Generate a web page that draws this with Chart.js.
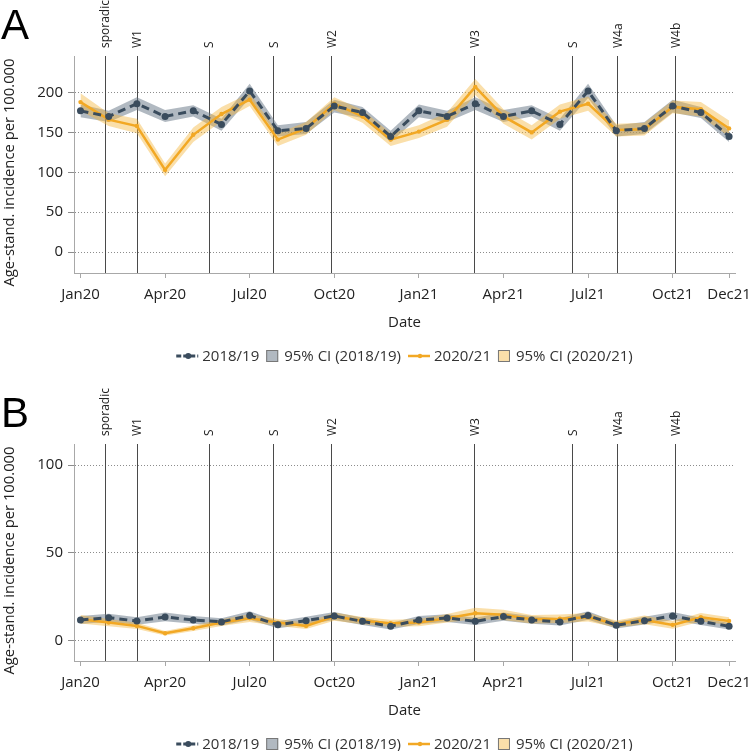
<!DOCTYPE html>
<html>
<head>
<meta charset="utf-8">
<script src="https://cdn.jsdelivr.net/npm/chart.js@4.4.1/dist/chart.umd.min.js"></script>
<style>
  html, body { margin: 0; padding: 0; background: #fff; overflow: hidden; }
  .panel { position: absolute; left: 0; width: 749px; height: 388px; }
  #panelA { top: 0; }
  #panelB { top: 388px; }
</style>
</head>
<body>
<canvas id="panelA" class="panel" width="749" height="388"></canvas>
<canvas id="panelB" class="panel" width="749" height="388"></canvas>
<script>
// =========================
// DATA
// =========================
const months = ["Jan20","Feb20","Mar20","Apr20","May20","Jun20","Jul20","Aug20","Sep20","Oct20","Nov20","Dec20",
                "Jan21","Feb21","Mar21","Apr21","May21","Jun21","Jul21","Aug21","Sep21","Oct21","Nov21","Dec21"];
const xTickMonths = ["Jan20","Apr20","Jul20","Oct20","Jan21","Apr21","Jul21","Oct21","Dec21"];

const waveDates = ["2020-01-28","2020-03-01","2020-05-18","2020-07-27","2020-09-28","2021-02-28","2021-06-14","2021-08-02","2021-10-04"];
const waveLabels = ["sporadic","W1","S","S","W2","W3","S","W4a","W4b"];

// panel A
const ref18A = [177, 170, 186, 170, 177, 160, 202, 152, 155, 183, 175, 145, 177, 170, 186, 170, 177, 160, 202, 152, 155, 183, 175, 145];
const lo18A  = [169, 163, 178, 163, 170, 152, 193, 145, 148, 175, 168, 138, 169, 163, 178, 163, 170, 152, 193, 145, 148, 175, 168, 138];
const hi18A  = [185, 177, 194, 178, 184, 167, 211, 159, 163, 191, 182, 152, 185, 177, 194, 178, 184, 167, 211, 159, 163, 191, 182, 152];
const obs20A = [188, 166, 158, 103, 147, 173, 191, 141, 155, 186, 170, 141, 151, 166, 207, 170, 150, 176, 186, 153, 154, 182, 179, 155];
const lo20A  = [177, 158, 149,  95, 138, 164, 183, 133, 147, 178, 162, 133, 143, 157, 197, 161, 141, 167, 177, 145, 146, 174, 170, 145];
const hi20A  = [199, 174, 167, 111, 156, 182, 199, 149, 163, 194, 178, 149, 159, 175, 217, 179, 159, 185, 195, 161, 162, 190, 188, 165];
const yTicksA = [0, 50, 100, 150, 200];

// panel B
const ref18B = [11.8, 13.1, 11.2, 13.5, 11.8, 10.7, 14.3, 9.0, 11.4, 14.1, 11.0, 8.2, 11.8, 12.9, 11.0, 13.7, 11.8, 10.7, 14.3, 8.8, 11.4, 14.1, 11.0, 8.2];
const lo18B  = [9.5, 10.8, 9.0, 11.0, 9.6, 8.6, 11.9, 7.0, 9.2, 11.8, 8.9, 6.3, 9.5, 10.7, 8.9, 11.3, 9.6, 8.6, 11.9, 6.9, 9.2, 11.8, 8.9, 6.3];
const hi18B  = [14.1, 15.4, 13.4, 16.0, 14.0, 12.8, 16.7, 11.0, 13.6, 16.4, 13.1, 10.1, 14.1, 15.1, 13.1, 16.1, 14.0, 12.8, 16.7, 10.7, 13.6, 16.4, 13.1, 10.1];
const obs20B = [12.2, 10.3, 8.4, 4.2, 7.1, 10.3, 12.8, 10.3, 8.4, 13.7, 11.4, 9.9, 10.3, 12.8, 15.6, 14.7, 12.2, 12.5, 13.3, 9.5, 11.8, 9.0, 13.3, 11.2];
const lo20B  = [9.8, 8.2, 6.6, 2.9, 5.5, 8.4, 10.6, 8.3, 6.6, 11.4, 9.3, 7.9, 8.2, 10.4, 12.4, 11.8, 9.8, 10.1, 10.9, 7.5, 9.3, 6.8, 10.9, 9.0];
const hi20B  = [14.6, 12.4, 10.2, 5.5, 8.7, 12.2, 15.0, 12.3, 10.2, 16.0, 13.5, 11.9, 12.4, 15.2, 18.8, 17.6, 14.6, 14.9, 15.7, 11.5, 14.3, 11.2, 15.7, 13.4];
const yTicksB = [0, 50, 100];

const yTitle = "Age-stand. incidence per 100.000";

// =========================
// HELPERS
// =========================
const $ = (id) => document.getElementById(id);
const FONT = "'Open Sans', sans-serif";
const TXT = "#222";
const COL = {
  ref: "#3a4c5d",
  obs: "#f2a824",
  refBand: "rgba(100,116,132,0.5)",
  obsBand: "rgba(244,178,52,0.42)",
  axis: "#a8a8a8",
  grid: "#8c8c8c",
  wave: "#4a4a4a"
};

const pts = (arr) => arr.map((v, i) => ({ x: i, y: v }));

// date -> fractional month index, Jan20 = 0
const monthPos = (s) => {
  const [y, m, d] = s.split("-").map(Number);
  const days = new Date(y, m, 0).getDate();
  return (y - 2020) * 12 + (m - 1) + (d - 1) / days;
};

const lineSymbol = (ctx, x, y, color, dashed) => {
  ctx.save();
  ctx.strokeStyle = color;
  ctx.fillStyle = color;
  ctx.lineWidth = dashed ? 3 : 2.5;
  if (dashed) ctx.setLineDash([5, 2]);
  ctx.beginPath();
  ctx.moveTo(x, y);
  ctx.lineTo(x + 22, y);
  ctx.stroke();
  ctx.setLineDash([]);
  ctx.beginPath();
  ctx.arc(x + 12, y, dashed ? 3 : 2.2, 0, Math.PI * 2);
  ctx.fill();
  ctx.restore();
  return 22;
};

const boxSymbol = (ctx, x, y, color) => {
  ctx.save();
  ctx.fillStyle = color;
  ctx.fillRect(x, y - 6, 12, 12);
  ctx.strokeStyle = "#777";
  ctx.lineWidth = 1;
  ctx.strokeRect(x + 0.5, y - 5.5, 11, 11);
  ctx.restore();
  return 12;
};

// =========================
// PLUGIN: wave lines, titles, legend
// =========================
const extras = {
  id: "extras",
  beforeDatasetsDraw(chart) {
    const { ctx, chartArea: a, scales: { x } } = chart;
    ctx.save();
    ctx.strokeStyle = COL.wave;
    ctx.lineWidth = 1;
    waveDates.forEach((d) => {
      const px = Math.round(x.getPixelForValue(monthPos(d))) + 0.5;
      ctx.beginPath();
      ctx.moveTo(px, a.top);
      ctx.lineTo(px, a.bottom);
      ctx.stroke();
    });
    ctx.restore();
  },
  afterDraw(chart, args, opts) {
    const { ctx, chartArea: a, scales: { x } } = chart;
    ctx.save();

    // wave labels
    ctx.fillStyle = TXT;
    ctx.font = `12px ${FONT}`;
    ctx.textAlign = "left";
    ctx.textBaseline = "middle";
    waveDates.forEach((d, i) => {
      const px = x.getPixelForValue(monthPos(d));
      ctx.save();
      ctx.translate(px + 1, a.top - 8);
      ctx.rotate(-Math.PI / 2);
      ctx.fillText(waveLabels[i], 0, 0);
      ctx.restore();
    });

    // y axis title
    ctx.save();
    ctx.font = `14.8px ${FONT}`;
    ctx.textAlign = "center";
    ctx.translate(10, 172.5);
    ctx.rotate(-Math.PI / 2);
    ctx.fillText(yTitle, 0, 0);
    ctx.restore();

    // panel letter
    ctx.font = `42px 'Liberation Sans', Arial, sans-serif`;
    ctx.fillStyle = "#000";
    ctx.textAlign = "left";
    ctx.textBaseline = "alphabetic";
    ctx.fillText(opts.letter, 1, 39);

    // legend
    ctx.font = `15px ${FONT}`;
    const items = [
      { text: "2018/19", kind: "line", color: COL.ref, dashed: true },
      { text: "95% CI (2018/19)", kind: "box", color: COL.refBand },
      { text: "2020/21", kind: "line", color: COL.obs, dashed: false },
      { text: "95% CI (2020/21)", kind: "box", color: COL.obsBand }
    ];
    const widths = items.map((it) => (it.kind === "line" ? 22 + 4 : 12 + 6) + ctx.measureText(it.text).width);
    const total = widths.reduce((s, w) => s + w, 0) + 7 * (items.length - 1);
    let cx = (a.left + a.right) / 2 - total / 2;
    const cy = 356;
    items.forEach((it, i) => {
      const w = it.kind === "line"
        ? lineSymbol(ctx, cx, cy, it.color, it.dashed) + 4
        : boxSymbol(ctx, cx, cy, it.color) + 6;
      ctx.fillStyle = "#333";
      ctx.textBaseline = "middle";
      ctx.fillText(it.text, cx + w, cy + 1);
      cx += widths[i] + 7;
    });

    ctx.restore();
  }
};

// =========================
// CHART BUILDER
// =========================
const makePanel = (id, letter, s) => new Chart($(id), {
  type: "line",
  data: {
    datasets: [
      { label: "lo18", data: pts(s.lo18), borderWidth: 0, pointRadius: 0, fill: false, order: 4 },
      { label: "95% CI (2018/19)", data: pts(s.hi18), borderWidth: 0, pointRadius: 0,
        fill: "-1", backgroundColor: COL.refBand, order: 4 },
      { label: "lo20", data: pts(s.lo20), borderWidth: 0, pointRadius: 0, fill: false, order: 3 },
      { label: "95% CI (2020/21)", data: pts(s.hi20), borderWidth: 0, pointRadius: 0,
        fill: "-1", backgroundColor: COL.obsBand, order: 3 },
      { label: "2020/21", data: pts(s.obs20), borderColor: COL.obs, backgroundColor: COL.obs,
        borderWidth: 2.5, pointRadius: 2.2, pointBorderWidth: 0, order: 2 },
      { label: "2018/19", data: pts(s.ref18), borderColor: COL.ref, backgroundColor: COL.ref,
        borderWidth: 3, borderDash: [8, 5], pointRadius: 3.5, pointBorderWidth: 0, order: 1 }
    ]
  },
  options: {
    responsive: false,
    animation: false,
    elements: { line: { tension: 0 } },
    layout: { padding: { top: 56, right: 14, bottom: 48, left: 0 } },
    plugins: {
      legend: { display: false },
      tooltip: { enabled: false },
      extras: { letter }
    },
    scales: {
      x: {
        type: "linear",
        min: -0.23,
        max: 23.21,
        afterBuildTicks: (sc) => { sc.ticks = xTickMonths.map((m) => ({ value: months.indexOf(m) })); },
        afterFit: (sc) => { sc.height = 67; sc.paddingLeft = 0; sc.paddingRight = 0; },
        ticks: {
          callback: (v) => months[v],
          autoSkip: false, maxRotation: 0, padding: 8,
          color: TXT, font: { family: FONT, size: 15 }
        },
        grid: { drawOnChartArea: false, tickLength: 5, tickColor: COL.axis },
        border: { color: COL.axis },
        title: {
          display: true, text: "Date", color: TXT,
          font: { family: FONT, size: 15 }, padding: { top: 0, bottom: 8 }
        }
      },
      y: {
        min: s.yMin,
        max: s.yMax,
        afterBuildTicks: (sc) => { sc.ticks = s.yTicks.map((v) => ({ value: v })); },
        afterFit: (sc) => { sc.width = 74; sc.paddingTop = 0; sc.paddingBottom = 0; },
        ticks: { padding: 5, color: TXT, font: { family: FONT, size: 15 } },
        grid: { color: COL.grid, tickColor: COL.grid, tickLength: 6, tickBorderDash: [] },
        border: { color: COL.axis, dash: [1, 2] }
      }
    }
  },
  plugins: [extras]
});

makePanel("panelA", "A", {
  ref18: ref18A, lo18: lo18A, hi18: hi18A,
  obs20: obs20A, lo20: lo20A, hi20: hi20A,
  yTicks: yTicksA, yMin: -26.3, yMax: 245.8
});

makePanel("panelB", "B", {
  ref18: ref18B, lo18: lo18B, hi18: hi18B,
  obs20: obs20B, lo20: lo20B, hi20: hi20B,
  yTicks: yTicksB, yMin: -11.6, yMax: 112.1
});
</script>
</body>
</html>
